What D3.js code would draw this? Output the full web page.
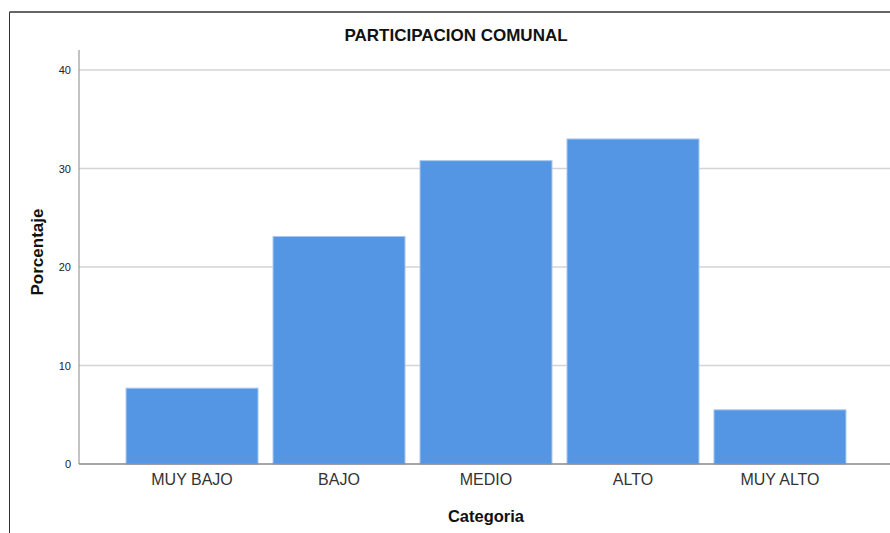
<!DOCTYPE html>
<html><head><meta charset="utf-8">
<script src="https://cdn.jsdelivr.net/npm/d3@7"></script>
<style>body{margin:0;background:#fff;}svg{display:block;font-family:Arial,"Liberation Sans",sans-serif;}</style>
</head><body>
<svg id="c" width="890" height="533"></svg>
<script>
const categories = ["MUY BAJO","BAJO","MEDIO","ALTO","MUY ALTO"];
const values = [7.7, 23.1, 30.8, 33.0, 5.5];
const yTicks = [0,10,20,30,40];
const title = "PARTICIPACION COMUNAL";
const xTitle = "Categoria";
const yTitle = "Porcentaje";

const svg = d3.select("#c");
// frame
svg.append("line").attr("x1",9.5).attr("x2",890).attr("y1",12).attr("y2",12).attr("stroke","#333").attr("stroke-width",1.5);
svg.append("line").attr("x1",9.5).attr("x2",9.5).attr("y1",12).attr("y2",533).attr("stroke","#333").attr("stroke-width",1);

const x0 = 79, y0 = 464;
const y = d3.scaleLinear().domain([0,40]).range([y0,70]);
const x = d3.scaleBand().domain(categories).range([x0,893]).paddingInner(0.102).paddingOuter(0.32);

// gridlines
svg.append("g").selectAll("line").data(yTicks.filter(t=>t>0)).join("line")
  .attr("x1",x0).attr("x2",890).attr("y1",d=>y(d)).attr("y2",d=>y(d))
  .attr("stroke","#d4d4d4").attr("stroke-width",1.5);

// bars
svg.append("g").selectAll("rect").data(values).join("rect")
  .attr("x",(d,i)=>x(categories[i])).attr("width",x.bandwidth())
  .attr("y",d=>y(d)).attr("height",d=>y0-y(d))
  .attr("fill","#5596e4").attr("stroke","#a9c9f0").attr("stroke-width",1);

// y axis
const ya = d3.axisLeft(y).tickValues(yTicks).tickSize(0).tickPadding(8).tickFormat(d3.format("d"));
const gy = svg.append("g").attr("transform",`translate(${x0},0)`).call(ya);
gy.selectAll("text").attr("font-size",11).attr("fill","#222");
gy.select(".domain").attr("stroke","#888").attr("d",`M0,50V${y0}`);

// x axis
const xa = d3.axisBottom(x).tickSize(0).tickPadding(10);
const gx = svg.append("g").attr("transform",`translate(0,${y0})`).call(xa);
gx.select(".domain").attr("stroke","#888").attr("stroke-width",1.5).attr("d",`M${x0},0H890`);
gx.selectAll("text").attr("font-size",16).attr("fill","#333");

// titles
svg.append("text").attr("x",456).attr("y",41).attr("text-anchor","middle").attr("font-size",17).attr("font-weight","bold").attr("fill","#111").text(title);
svg.append("text").attr("x",486).attr("y",522).attr("text-anchor","middle").attr("font-size",16.5).attr("font-weight","bold").attr("fill","#111").text(xTitle);
svg.append("text").attr("transform","translate(43,252) rotate(-90)").attr("text-anchor","middle").attr("font-size",17).attr("font-weight","bold").attr("fill","#111").text(yTitle);
</script>
</body></html>
